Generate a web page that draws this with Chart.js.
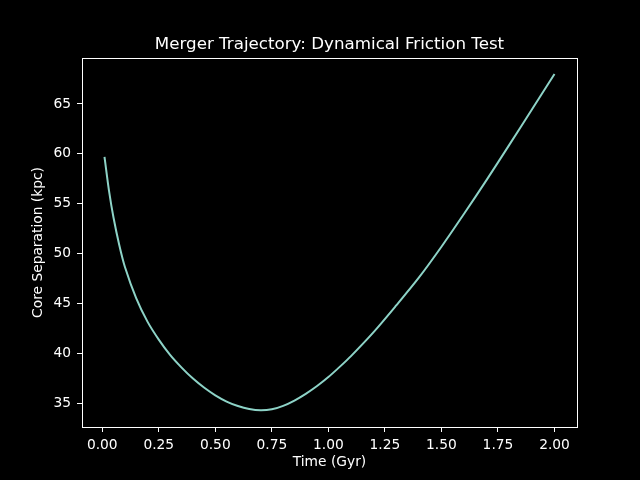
<!DOCTYPE html>
<html>
<head>
<meta charset="utf-8">
<script src="https://cdn.jsdelivr.net/npm/chart.js@4/dist/chart.umd.min.js"></script>
<style>
  html, body { margin: 0; padding: 0; background: #000; }
  canvas { display: block; }
</style>
</head>
<body>
<canvas id="chart" width="640" height="480"></canvas>
<script>
// values
const timeGyr = [0.01, 0.03, 0.05, 0.075, 0.1, 0.15, 0.2, 0.25, 0.3, 0.35, 0.4, 0.45, 0.5, 0.55, 0.6,
    0.65, 0.7, 0.75, 0.8, 0.85, 0.9, 0.95, 1.0, 1.05, 1.1, 1.2, 1.3, 1.4, 1.5, 1.6, 1.7, 1.8, 1.9, 2.0];
const separationKpc = [59.7, 56.3, 53.6, 50.9, 48.7, 45.55, 43.2, 41.4, 39.87, 38.62, 37.52, 36.6, 35.82, 35.2, 34.75,
    34.45, 34.32, 34.42, 34.77, 35.3, 35.97, 36.75, 37.65, 38.67, 39.75, 42.15, 44.82, 47.6, 50.7, 54.0, 57.4, 60.9, 64.45, 68.0];
const xTicks = [0, 0.25, 0.5, 0.75, 1.0, 1.25, 1.5, 1.75, 2.0];
const yTicks = [35, 40, 45, 50, 55, 60, 65];
const titleText = "Merger Trajectory: Dynamical Friction Test";

const font = "'DejaVu Sans', sans-serif";

// matplotlib draws a full box round the axes and centres the title on it
const frame = {
    id: "frame",
    afterDraw(chart) {
        const a = chart.chartArea, c = chart.ctx;
        c.save();
        c.strokeStyle = "#fff";
        c.lineWidth = 1;
        c.strokeRect(Math.round(a.left) + 0.5, Math.round(a.top) + 0.5,
            Math.round(a.right - a.left), Math.round(a.bottom - a.top));
        c.fillStyle = "#fff";
        c.font = "16.7px " + font;
        c.textAlign = "center";
        c.textBaseline = "alphabetic";
        c.fillText(titleText, (a.left + a.right) / 2, 48.7);
        c.restore();
    }
};

new Chart(document.getElementById("chart"), {
    type: "line",
    data: {
        datasets: [{
            data: timeGyr.map((t, i) => ({ x: t, y: separationKpc[i] })),
            borderColor: "#8dd3c7",
            borderWidth: 2,
            pointRadius: 0,
            pointHoverRadius: 0,
            tension: 0.3,
            fill: false
        }]
    },
    options: {
        responsive: false,
        devicePixelRatio: 1,
        animation: false,
        events: [],
        layout: { padding: { left: 0, right: 63, top: 58, bottom: 0 } },
        plugins: {
            legend: { display: false },
            tooltip: { enabled: false },
            title: { display: false }
        },
        scales: {
            x: {
                type: "linear",
                min: -0.0895,
                max: 2.0995,
                afterFit: s => { s.height = 53; },
                afterBuildTicks: s => { s.ticks = xTicks.map(v => ({ value: v })); },
                grid: { drawOnChartArea: false, drawTicks: true, tickLength: 5, color: "#fff" },
                border: { display: false },
                ticks: {
                    color: "#fff", font: { family: font, size: 13.8 }, padding: 5,
                    maxRotation: 0, autoSkip: false,
                    callback: v => v.toFixed(2)
                },
                title: { display: true, text: "Time (Gyr)", color: "#fff", font: { family: font, size: 13.8 }, padding: { top: 0, bottom: 9 } }
            },
            y: {
                type: "linear",
                min: 32.65,
                max: 69.6,
                afterFit: s => { s.width = 82; },
                afterBuildTicks: s => { s.ticks = yTicks.map(v => ({ value: v })); },
                grid: { drawOnChartArea: false, drawTicks: true, tickLength: 5, color: "#fff" },
                border: { display: false },
                ticks: { color: "#fff", font: { family: font, size: 13.8 }, padding: 6, autoSkip: false },
                title: { display: true, text: "Core Separation (kpc)", color: "#fff", font: { family: font, size: 13.8 }, padding: { top: 30, bottom: 0 } }
            }
        }
    },
    plugins: [frame]
});
</script>
</body>
</html>
